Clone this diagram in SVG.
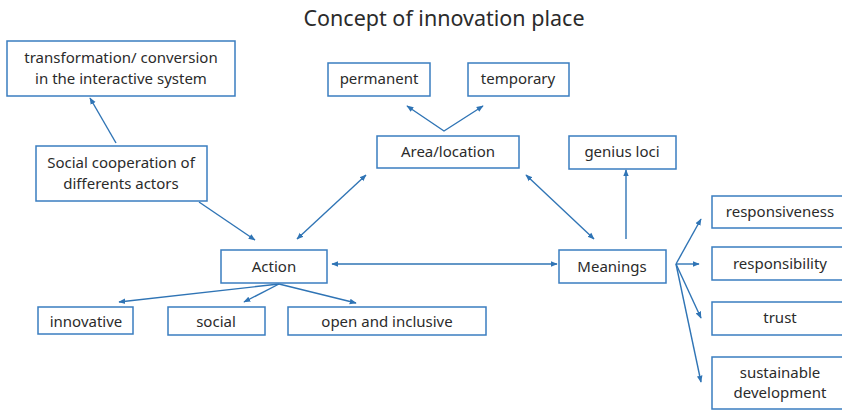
<svg xmlns="http://www.w3.org/2000/svg" width="842" height="410" viewBox="0 0 842 410">
<defs>
<style>
.box{fill:#fff;stroke:#3a7dc0;stroke-width:1.5}
.t{font-family:"Noto Sans","Open Sans",sans-serif;font-size:15px;fill:#2b2b2b;text-anchor:middle}
.title{font-family:"Noto Sans","Open Sans",sans-serif;font-size:21.5px;fill:#2b2b2b;text-anchor:middle}
.c{stroke:#2f74b5;stroke-width:1.4;fill:none}
</style>
<marker id="ah" viewBox="0 0 10 10" refX="9" refY="5" markerWidth="7" markerHeight="7" orient="auto-start-reverse" markerUnits="userSpaceOnUse">
<path d="M0,1 L10,5 L0,9 Z" fill="#2f74b5"/>
</marker>
</defs>
<rect width="842" height="410" fill="#fff"/>
<text class="title" x="444" y="26">Concept of innovation place</text>
<g id="connectors">
<line class="c" x1="116" y1="143" x2="90" y2="98" marker-end="url(#ah)"/>
<line class="c" x1="199" y1="202" x2="255" y2="240" marker-end="url(#ah)"/>
<line class="c" x1="297" y1="239" x2="366" y2="175" marker-start="url(#ah)" marker-end="url(#ah)"/>
<line class="c" x1="526" y1="175" x2="594" y2="239" marker-start="url(#ah)" marker-end="url(#ah)"/>
<polyline class="c" points="407,106 444,131 483,106" marker-start="url(#ah)" marker-end="url(#ah)"/>
<line class="c" x1="332" y1="264" x2="557" y2="264" marker-start="url(#ah)" marker-end="url(#ah)"/>
<line class="c" x1="279" y1="284" x2="119" y2="302" marker-end="url(#ah)"/>
<line class="c" x1="279" y1="284" x2="244" y2="302" marker-end="url(#ah)"/>
<line class="c" x1="279" y1="284" x2="356" y2="303" marker-end="url(#ah)"/>
<line class="c" x1="626" y1="239" x2="626" y2="170" marker-end="url(#ah)"/>
<line class="c" x1="676" y1="264" x2="701" y2="219" marker-end="url(#ah)"/>
<line class="c" x1="676" y1="264" x2="699" y2="264" marker-end="url(#ah)"/>
<line class="c" x1="676" y1="264" x2="701" y2="318" marker-end="url(#ah)"/>
<line class="c" x1="676" y1="264" x2="701" y2="382" marker-end="url(#ah)"/>
</g>
<g id="n-transformation"><rect class="box" x="7" y="41" width="228" height="55"/><text class="t" x="121" y="63">transformation/ conversion</text><text class="t" x="121" y="84">in the interactive system</text></g>
<g id="n-social-coop"><rect class="box" x="36" y="146" width="171" height="55"/><text class="t" x="121" y="168">Social cooperation of</text><text class="t" x="121" y="189">differents actors</text></g>
<g id="n-permanent"><rect class="box" x="328" y="63" width="102" height="33"/><text class="t" x="379" y="84">permanent</text></g>
<g id="n-temporary"><rect class="box" x="468" y="63" width="101" height="33"/><text class="t" x="518" y="84">temporary</text></g>
<g id="n-area"><rect class="box" x="377" y="136" width="142" height="32"/><text class="t" x="448" y="157">Area/location</text></g>
<g id="n-genius"><rect class="box" x="569" y="136" width="107" height="33"/><text class="t" x="622" y="157">genius loci</text></g>
<g id="n-action"><rect class="box" x="221" y="250" width="106" height="33"/><text class="t" x="274" y="272">Action</text></g>
<g id="n-meanings"><rect class="box" x="559" y="250" width="107" height="33"/><text class="t" x="612" y="272">Meanings</text></g>
<g id="n-innovative"><rect class="box" x="38" y="307" width="95" height="27"/><text class="t" x="86" y="327">innovative</text></g>
<g id="n-social"><rect class="box" x="168" y="307" width="97" height="28"/><text class="t" x="216" y="327">social</text></g>
<g id="n-open"><rect class="box" x="288" y="307" width="198" height="28"/><text class="t" x="387" y="327">open and inclusive</text></g>
<g id="n-responsiveness"><rect class="box" x="712" y="196" width="140" height="32"/><text class="t" x="780" y="217">responsiveness</text></g>
<g id="n-responsibility"><rect class="box" x="712" y="247" width="140" height="33"/><text class="t" x="780" y="269">responsibility</text></g>
<g id="n-trust"><rect class="box" x="712" y="302" width="140" height="33"/><text class="t" x="780" y="323">trust</text></g>
<g id="n-sustainable"><rect class="box" x="712" y="357" width="140" height="52"/><text class="t" x="780" y="378">sustainable</text><text class="t" x="780" y="398">development</text></g>
</svg>
